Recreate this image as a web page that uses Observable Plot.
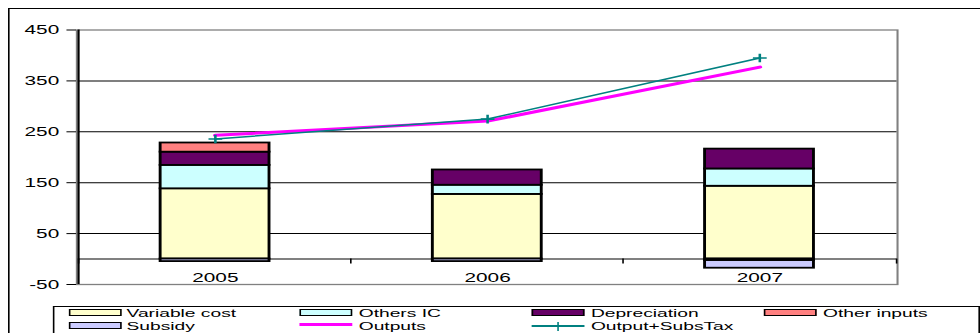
<!DOCTYPE html>
<html><head><meta charset="utf-8">
<script src="https://cdn.jsdelivr.net/npm/d3@7"></script>
<script src="https://cdn.jsdelivr.net/npm/@observablehq/plot@0.6"></script>
<style>
html,body{margin:0;padding:0;background:#fff;overflow:hidden;width:980px;height:333px;}
#stage{position:absolute;left:0;top:0;width:612px;height:333px;transform:scaleX(1.6013);transform-origin:0 0;font-family:"Liberation Sans",Arial,sans-serif;}
#frame{position:absolute;left:5px;top:8px;width:700px;height:400px;border:1px solid #000;}
#chart{position:absolute;left:0;top:0;}
#legend{position:absolute;left:33px;top:306px;width:577px;height:60px;border:1px solid #000;background:#fff;}
.lg{position:absolute;}
.lt{position:absolute;font-size:11px;line-height:11px;white-space:nowrap;color:#000;transform:scaleX(1.09);transform-origin:0 0;}
</style>
</head><body>
<div id="stage"><div id="frame"></div><div id="chart"></div><div id="legend"></div></div>
<script>
const years = ["2005", "2006", "2007"];
const variableCost = [138, 127, 143];
const othersIC = [46, 18, 34];
const depreciation = [26, 30, 39];
const otherInputs = [18, 0, -3];
const subsidy = [-5, -5, -15];
const outputs = [243, 271, 377];
const outputSubsTax = [236, 275, 395];
const seriesNames = ["Variable cost", "Others IC", "Depreciation", "Other inputs", "Subsidy"];
const seriesColors = ["#FFFFCC", "#CCFFFF", "#660066", "#FF8080", "#CCCCFF"];
const outputsColor = "#FF00FF";
const subsTaxColor = "#008080";
const yTicks = [-50, 50, 150, 250, 350, 450];
const gridTicks = [50, 150, 250, 350];

const seriesValues = [variableCost, othersIC, depreciation, otherInputs, subsidy];
const barTable = [];
seriesNames.forEach((s, si) => years.forEach((y, yi) => {
  if (seriesValues[si][yi] !== 0) barTable.push({series: s, year: y, value: seriesValues[si][yi]});
}));
const outTable = years.map((y, i) => ({year: y, value: outputs[i]}));
const taxTable = years.map((y, i) => ({year: y, value: outputSubsTax[i]}));

const W = 612, H = 333, mL = 47.5, mR = 52, mT = 29.5, mB = 49;
const yMin = -50, yMax = 450;
const innerW = W - mL - mR, innerH = H - mT - mB;
const step = innerW / years.length;
const zeroDy = -innerH * (0 - yMin) / (yMax - yMin);

const plusSymbol = {
  draw(ctx, size) {
    const r = Math.sqrt(size / Math.PI);
    ctx.moveTo(-r, 0); ctx.lineTo(r, 0);
    ctx.moveTo(0, -r); ctx.lineTo(0, r);
  }
};

const chart = Plot.plot({
  width: W, height: H,
  marginLeft: mL, marginRight: mR, marginTop: mT, marginBottom: mB,
  style: {background: "transparent", fontFamily: "'Liberation Sans', Arial, sans-serif", color: "#000", overflow: "visible"},
  x: {type: "band", domain: years, paddingInner: 0.6, paddingOuter: 0.3, axis: null, label: null},
  y: {domain: [yMin, yMax], axis: null, label: null},
  color: {type: "ordinal", domain: seriesNames, range: seriesColors},
  marks: [
    Plot.gridY(gridTicks, {stroke: "#000", strokeOpacity: 1, strokeWidth: 1}),
    Plot.frame({stroke: "#808080", strokeWidth: 1.3}),
    Plot.ruleY([0], {stroke: "#808080", strokeWidth: 2}),
    Plot.ruleX([years[0]], {x: d => d, dx: -step / 2, stroke: "#000", strokeWidth: 1.3}),
    Plot.axisY(yTicks, {tickSize: 6, tickPadding: 5, fontSize: 13, stroke: "#000", fill: "#000", label: null, tickFormat: d => String(d)}),
    Plot.axisX(years, {tickSize: 5, text: null, dx: -step / 2, dy: zeroDy, stroke: "#000", label: null}),
    Plot.axisX([years[years.length - 1]], {tickSize: 5, text: null, dx: step / 2, dy: zeroDy, stroke: "#000", label: null}),
    Plot.axisX(years, {tickSize: 0, tickPadding: 13.5, fontSize: 13, dy: zeroDy, fill: "#000", label: null}),
    Plot.barY(barTable, Plot.stackY({x: "year", y: "value", z: "series", fill: "series", stroke: "#000", strokeWidth: 1.8})),
    Plot.line(outTable, {x: "year", y: "value", stroke: outputsColor, strokeWidth: 3}),
    Plot.line(taxTable, {x: "year", y: "value", stroke: subsTaxColor, strokeWidth: 1.5}),
    Plot.dot(taxTable, {x: "year", y: "value", symbol: plusSymbol, r: 4.3, stroke: subsTaxColor, strokeWidth: 1.6, fill: "none"})
  ]
});
document.getElementById("chart").appendChild(chart);

// legend
const legendItems = [
  ...seriesNames.map((n, i) => ({name: n, kind: "box", color: seriesColors[i]})),
  {name: "Outputs", kind: "line", color: outputsColor, width: 3, cy: 17.5},
  {name: "Output+SubsTax", kind: "plus", color: subsTaxColor, width: 1.5, cy: 19}
];
const lg = document.getElementById("legend");
legendItems.forEach((it, k) => {
  const c = k % 4, r = Math.floor(k / 4);
  const sx = 8.5 + 144.8 * c;
  const rowTop = 12.7 * r;
  if (it.kind === "box") {
    const s = document.createElement("div");
    s.className = "lg";
    s.style.cssText = `left:${sx}px;top:${2 + rowTop}px;width:33px;height:7px;box-sizing:border-box;border:1.5px solid #000;background:${it.color};`;
    lg.appendChild(s);
  } else {
    const s = document.createElement("div");
    s.className = "lg";
    s.style.cssText = `left:${sx}px;top:${it.cy - it.width / 2}px;width:33px;height:${it.width}px;background:${it.color};`;
    lg.appendChild(s);
    if (it.kind === "plus") {
      const p = document.createElement("div");
      p.className = "lg";
      p.style.cssText = `left:${sx + 16.5 - 0.7}px;top:${it.cy - 4.5}px;width:1.4px;height:9px;background:${it.color};`;
      lg.appendChild(p);
    }
  }
  const t = document.createElement("div");
  t.className = "lt";
  t.style.left = (sx + 36.9) + "px";
  t.style.top = (1.0 + rowTop) + "px";
  t.textContent = it.name;
  lg.appendChild(t);
});
</script>
</body></html>
